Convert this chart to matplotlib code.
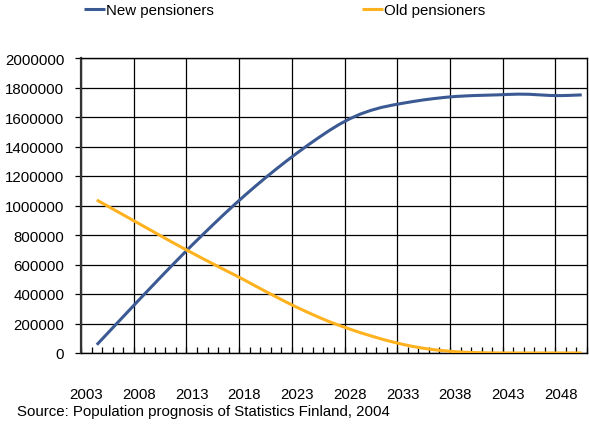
import matplotlib.pyplot as plt
import numpy as np

plt.rcParams['font.family'] = ['Liberation Sans', 'DejaVu Sans']

# --- Data ---
years = list(range(2003, 2051))
tick_years = list(range(2003, 2049, 5))

new_years = list(range(2004, 2051))
new_pensioners = [
    56000, 132000, 208000, 284000, 360000, 435000, 510000, 584000, 657000,
    729000, 799000, 868000, 936000, 1002000, 1066000, 1128000, 1188000,
    1246000, 1302000, 1356000, 1408000, 1458000, 1506000, 1550000, 1588000,
    1620000, 1645000, 1665000, 1680000, 1693000, 1705000, 1716000, 1725000,
    1733000, 1739000, 1743000, 1746000, 1748000, 1750000, 1753000, 1755000,
    1754000, 1750000, 1746000, 1745000, 1747000, 1750000,
]

old_years = list(range(2004, 2051))
old_pensioners = [
    1037000, 997000, 957000, 917000, 877000, 837000, 797000, 757000, 718000,
    680000, 642000, 605000, 568000, 532000, 495000, 456000, 418000, 381000,
    344000, 309000, 276000, 244000, 214000, 187000, 162000, 138000, 116000,
    95000, 76000, 59000, 44000, 32000, 22000, 15000, 9000, 5000, 2500, 1000,
    0, 0, 0, 0, 0, 0, 0, 0, 0,
]

NAVY = '#3b5a93'
ORANGE = '#ffb21f'

# --- Figure ---
fig = plt.figure(figsize=(5.89, 4.35), dpi=100)
ax = fig.add_axes([81 / 589, 1 - 354 / 435, (587 - 81) / 589, (354 - 59) / 435])

# category axis: each year occupies one slot, points sit in slot centres
def pos(ys):
    return np.array(ys) - years[0] + 0.5

ax.set_xlim(0, len(years))
ax.set_ylim(0, 2000000)

# gridlines
for g in range(0, len(years), 5):
    ax.axvline(g, color='black', lw=0.9, zorder=1)
for v in range(0, 2000001, 200000):
    ax.axhline(v, color='black', lw=0.9, zorder=1)

ax.plot(pos(new_years), new_pensioners, color=NAVY, lw=2.2, label='New pensioners',
        solid_capstyle='butt', zorder=3)
ax.plot(pos(old_years), old_pensioners, color=ORANGE, lw=2.2, label='Old pensioners',
        solid_capstyle='butt', zorder=3)

# ticks
ax.set_xticks(pos(tick_years))
ax.set_xticklabels([str(y) for y in tick_years])
ax.set_xticks(np.arange(0, len(years) + 1), minor=True)
ax.tick_params(axis='x', which='major', length=0, pad=24.5, labelsize=10.8)
ax.tick_params(axis='x', which='minor', direction='in', length=4, width=0.9)
ax.set_yticks(range(0, 2000001, 200000))
ax.set_yticklabels([str(v) for v in range(0, 2000001, 200000)])
ax.tick_params(axis='y', direction='out', length=4, width=0.9, pad=8, labelsize=10.8)

for side in ['top', 'right', 'bottom']:
    ax.spines[side].set_linewidth(1.0)
ax.spines['left'].set_linewidth(1.6)
ax.spines['left'].set_color('#333333')

leg = fig.legend(loc='upper left', bbox_to_anchor=(84 / 589, 1 - 4 / 435), ncol=2,
                 frameon=False, fontsize=10.8, handlelength=1.4, handletextpad=0.05,
                 columnspacing=9.9, borderpad=0, borderaxespad=0)

fig.text(17 / 589, 1 - 412 / 435, 'Source: Population prognosis of Statistics Finland, 2004',
         fontsize=10.8, va='center', ha='left')

fig.savefig('out.png', dpi=100)
